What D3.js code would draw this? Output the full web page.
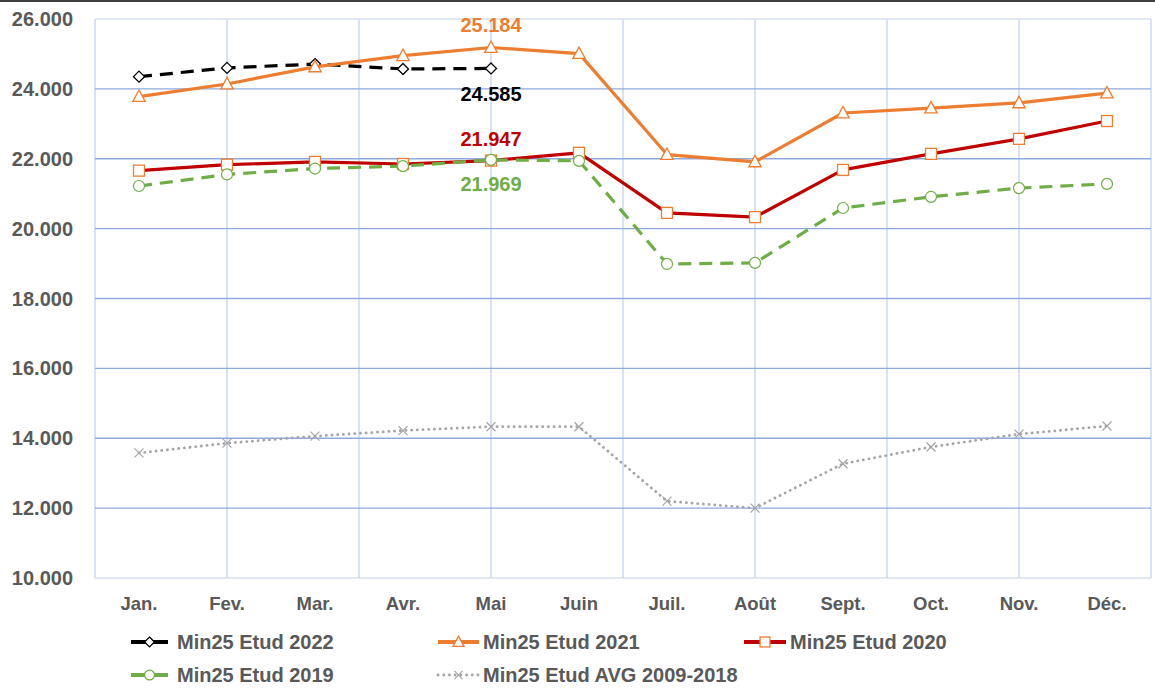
<!DOCTYPE html>
<html>
<head>
<meta charset="utf-8">
<script src="https://cdn.jsdelivr.net/npm/d3@7"></script>
<style>
  html, body { margin: 0; padding: 0; background: #fff; }
  svg { display: block; }
</style>
</head>
<body>
<div id="chart"></div>
<script>
// Monate
const months = ['Jan.', 'Fev.', 'Mar.', 'Avr.', 'Mai', 'Juin', 'Juil.', 'Août', 'Sept.', 'Oct.', 'Nov.', 'Déc.'];

// Werte je Serie
const etud2022 = [24350, 24600, 24710, 24570, 24585];
const etud2021 = [23780, 24140, 24630, 24950, 25184, 25010, 22120, 21910, 23310, 23450, 23600, 23880];
const etud2020 = [21660, 21830, 21910, 21850, 21947, 22170, 20450, 20330, 21680, 22140, 22570, 23080];
const etud2019 = [21220, 21550, 21720, 21790, 21969, 21940, 18990, 19020, 20590, 20910, 21160, 21280];
const etudAvg  = [13580, 13860, 14060, 14220, 14330, 14330, 12200, 12000, 13270, 13750, 14120, 14350];

const yTicks = [10000, 12000, 14000, 16000, 18000, 20000, 22000, 24000, 26000];

const seriesNames = ['Min25 Etud 2022', 'Min25 Etud 2021', 'Min25 Etud 2020', 'Min25 Etud 2019', 'Min25 Etud AVG 2009-2018'];

(function () {
  'use strict';

  const W = 1155, H = 688;
  const margin = { top: 19, right: 4, bottom: 110, left: 95 };
  const FONT = 'Liberation Sans, Arial, sans-serif';
  const TXT = '#595959';

  const fr = d3.formatLocale({ decimal: ',', thousands: '.', grouping: [3], currency: ['', '€'] });
  const fmt = fr.format(',.0f');

  // Serien-Definitionen
  const series = [
    { name: seriesNames[0], values: etud2022, color: '#000000', width: 3.2, dash: '13,8', marker: 'diamond', mStroke: '#000000' },
    { name: seriesNames[1], values: etud2021, color: '#ed7d31', width: 3.2, dash: null, marker: 'triangle', mStroke: '#ed7d31' },
    { name: seriesNames[2], values: etud2020, color: '#c00000', width: 3.2, dash: null, marker: 'square', mStroke: '#ed7d31' },
    { name: seriesNames[3], values: etud2019, color: '#70ad47', width: 3.2, dash: '13,8', marker: 'circle', mStroke: '#70ad47' },
    { name: seriesNames[4], values: etudAvg, color: '#a5a5a5', width: 2.8, dash: '0.1,5.6', marker: 'x', mStroke: '#a5a5a5' },
  ];

  const svg = d3.select('#chart').append('svg')
    .attr('width', W).attr('height', H);

  // dunkle Kante oben
  svg.append('rect').attr('x', 0).attr('y', 0).attr('width', W).attr('height', 2).attr('fill', '#404040');

  const iw = W - margin.left - margin.right;
  const ih = H - margin.top - margin.bottom;

  const x = d3.scaleBand().domain(months).range([0, iw]);
  const y = d3.scaleLinear().domain([10000, 26000]).range([ih, 0]);
  // vertikale Gitterlinien liegen alle 1,5 Kategorien
  const xg = d3.scaleLinear().domain([0, 8]).range([0, iw]);

  const g = svg.append('g').attr('transform', `translate(${margin.left},${margin.top})`);

  // --- Gitter ---
  g.append('g').selectAll('line')
    .data(d3.range(0, 9))
    .enter().append('line')
    .attr('x1', d => xg(d)).attr('x2', d => xg(d))
    .attr('y1', 0).attr('y2', ih)
    .attr('stroke', '#c5d3ee').attr('stroke-width', 1.3);

  g.append('g').selectAll('line')
    .data(yTicks)
    .enter().append('line')
    .attr('x1', 0).attr('x2', iw)
    .attr('y1', d => y(d)).attr('y2', d => y(d))
    .attr('stroke', d => (d === 10000 || d === 26000) ? '#d6e0f3' : '#8faadc')
    .attr('stroke-width', 1.4);

  // --- Y-Achse ---
  g.append('g').selectAll('text')
    .data(yTicks)
    .enter().append('text')
    .attr('x', -22).attr('y', d => y(d))
    .attr('dy', '0.35em')
    .attr('text-anchor', 'end')
    .attr('fill', TXT)
    .attr('font-family', FONT)
    .attr('font-size', '20px')
    .attr('font-weight', 'bold')
    .text(d => fmt(d));

  // --- X-Achse ---
  g.append('g').selectAll('text')
    .data(months)
    .enter().append('text')
    .attr('x', d => x(d) + x.bandwidth() / 2)
    .attr('y', ih + 32)
    .attr('text-anchor', 'middle')
    .attr('fill', TXT)
    .attr('font-family', FONT)
    .attr('font-size', '18.5px')
    .attr('font-weight', 'bold')
    .text(d => d);

  // --- Marker ---
  function drawMarker(sel, type, stroke, size) {
    const s = size || 1;
    if (type === 'circle') {
      sel.append('circle').attr('r', 5.5 * s).attr('fill', '#fff').attr('stroke', stroke).attr('stroke-width', 1.2);
    } else if (type === 'square') {
      sel.append('rect').attr('x', -5.5 * s).attr('y', -5.5 * s).attr('width', 11 * s).attr('height', 11 * s)
        .attr('fill', '#fff').attr('stroke', stroke).attr('stroke-width', 1.3);
    } else if (type === 'triangle') {
      const r = 6.5 * s;
      sel.append('path').attr('d', `M0,${-r}L${r * 0.95},${r * 0.75}L${-r * 0.95},${r * 0.75}Z`)
        .attr('fill', '#fff').attr('stroke', stroke).attr('stroke-width', 1.3);
    } else if (type === 'diamond') {
      const r = 5.5 * s;
      sel.append('path').attr('d', `M0,${-r}L${r},0L0,${r}L${-r},0Z`)
        .attr('fill', '#fff').attr('stroke', stroke).attr('stroke-width', 1.3);
    } else if (type === 'x') {
      const r = 4.5 * s;
      sel.append('path').attr('d', `M${-r},${-r}L${r},${r}M${-r},${r}L${r},${-r}`)
        .attr('fill', 'none').attr('stroke', stroke).attr('stroke-width', 1.2);
    }
  }

  const line = d3.line()
    .x((d, i) => x(months[i]) + x.bandwidth() / 2)
    .y(d => y(d));

  // --- Linien zeichnen ---
  series.forEach(s => {
    const sg = g.append('g');
    sg.append('path')
      .datum(s.values)
      .attr('d', line)
      .attr('fill', 'none')
      .attr('stroke', s.color)
      .attr('stroke-width', s.width)
      .attr('stroke-linecap', s.marker === 'x' ? 'round' : 'butt')
      .attr('stroke-linejoin', 'round')
      .attr('stroke-dasharray', s.dash);

    s.values.forEach((v, i) => {
      const m = sg.append('g')
        .attr('transform', `translate(${x(months[i]) + x.bandwidth() / 2},${y(v)})`);
      drawMarker(m, s.marker, s.mStroke);
    });
  });

  // --- Datenbeschriftungen (Mai) ---
  const mx = x('Mai') + x.bandwidth() / 2;
  const labels = [
    { v: etud2021[4], color: '#ed7d31', dy: -22.5 },
    { v: etud2022[4], color: '#000000', dy: 25.6 },
    { v: etud2020[4], color: '#c00000', dy: -21.6 },
    { v: etud2019[4], color: '#70ad47', dy: 24.2 },
  ];
  g.append('g').selectAll('text')
    .data(labels)
    .enter().append('text')
    .attr('x', mx)
    .attr('y', d => y(d.v) + d.dy)
    .attr('dy', '0.35em')
    .attr('text-anchor', 'middle')
    .attr('fill', d => d.color)
    .attr('font-family', FONT)
    .attr('font-size', '20px')
    .attr('font-weight', 'bold')
    .text(d => fmt(d.v));

  // --- Legende ---
  const legendPos = [
    { x: 131, y: 642, lw: 37, gap: 9 },
    { x: 438, y: 642, lw: 41, gap: 4 },
    { x: 744, y: 642, lw: 42, gap: 4 },
    { x: 131, y: 675, lw: 37, gap: 9 },
    { x: 438, y: 675, lw: 41, gap: 4 },
  ];
  const leg = svg.append('g');
  series.forEach((s, i) => {
    const p = legendPos[i];
    const li = leg.append('g').attr('transform', `translate(${p.x},${p.y})`);
    li.append('line')
      .attr('x1', 0).attr('x2', p.lw).attr('y1', 0).attr('y2', 0)
      .attr('stroke', s.color).attr('stroke-width', s.marker === 'x' ? 2.8 : 3.8)
      .attr('stroke-linecap', s.marker === 'x' ? 'round' : 'butt')
      .attr('stroke-dasharray', s.marker === 'x' ? '0.1,5.6' : null);
    const mk = li.append('g').attr('transform', `translate(${p.lw / 2},0)`);
    drawMarker(mk, s.marker, s.mStroke, 0.9);
    li.append('text')
      .attr('x', p.lw + p.gap)
      .attr('y', 0).attr('dy', '0.35em')
      .attr('fill', TXT)
      .attr('font-family', FONT)
      .attr('font-size', '20px')
      .attr('font-weight', 'bold')
      .text(s.name);
  });
})();
</script>
</body>
</html>
